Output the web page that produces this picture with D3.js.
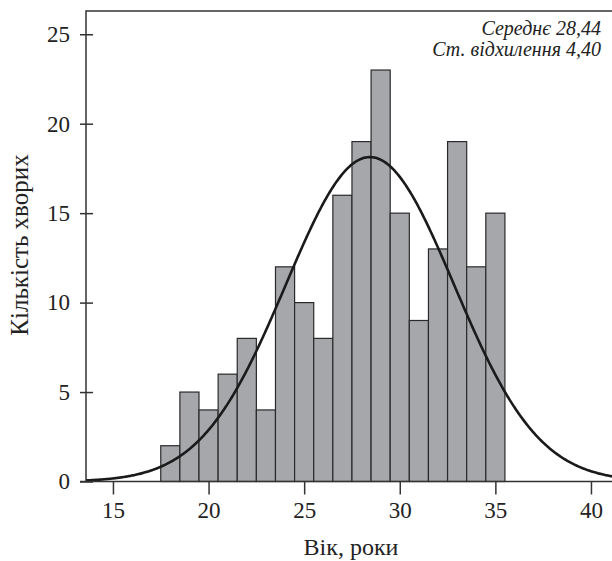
<!DOCTYPE html>
<html>
<head>
<meta charset="utf-8">
<script src="https://cdn.jsdelivr.net/npm/d3@7"></script>
<style>
  body { margin: 0; background: #fff; }
  svg { display: block; font-family: "Liberation Serif", "DejaVu Serif", serif; }
</style>
</head>
<body>
<div id="chart"></div>
<script>
// ages (bin centres) and patient counts
const ages = [18, 19, 20, 21, 22, 23, 24, 25, 26, 27, 28, 29, 30, 31, 32, 33, 34, 35];
const counts = [2, 5, 4, 6, 8, 4, 12, 10, 8, 16, 19, 23, 15, 9, 13, 19, 12, 15];
const xTicks = [15, 20, 25, 30, 35, 40];
const yTicks = [0, 5, 10, 15, 20, 25];
const mean = 28.44;
const sd = 4.40;
const statLines = ['Середнє 28,44', 'Ст. відхилення 4,40'];

const width = 612, height = 561;
const plotLeft = 86, plotRight = 612, plotTop = 11, plotBottom = 481.5;

const svg = d3.select('#chart')
    .append('svg')
    .attr('width', width)
    .attr('height', height);

const x = d3.scaleLinear().domain([13.59, 41.1]).range([plotLeft, plotRight]);
const y = d3.scaleLinear().domain([0, 26.3]).range([plotBottom, plotTop]);

// bars
svg.append('g')
    .selectAll('rect')
    .data(ages)
    .enter()
    .append('rect')
    .attr('x', (d) => x(d - 0.5))
    .attr('y', (d, i) => y(counts[i]))
    .attr('width', x(1) - x(0))
    .attr('height', (d, i) => y(0) - y(counts[i]))
    .style('fill', '#a6a7ab')
    .style('stroke', '#2a2a2a')
    .style('stroke-width', 1.2);

// fitted normal curve, scaled to bin width 1 and total count
const total = d3.sum(counts);
const curveX = d3.range(x.domain()[0], x.domain()[1] + 0.05, 0.05);
const normal = (v) => total / (sd * Math.sqrt(2 * Math.PI)) * Math.exp(-0.5 * ((v - mean) / sd) ** 2);

svg.append('path')
    .datum(curveX)
    .attr('d', d3.line().x((d) => x(d)).y((d) => y(normal(d))))
    .style('fill', 'none')
    .style('stroke', '#1a1a1a')
    .style('stroke-width', 2.6);

// frame: left and top only
svg.append('path')
    .attr('d', `M${plotLeft},${plotBottom}V${plotTop}H${plotRight}`)
    .style('fill', 'none')
    .style('stroke', '#333')
    .style('stroke-width', 1.5);

// x axis
const xAxis = svg.append('g')
    .attr('transform', `translate(0,${plotBottom})`)
    .call(d3.axisBottom(x).tickValues(xTicks).tickSize(13).tickPadding(7));
xAxis.select('.domain').attr('d', `M${plotLeft - 6},0H${plotRight}`);

// y axis, ticks crossing the line
const yAxis = svg.append('g')
    .attr('transform', `translate(${plotLeft},0)`)
    .call(d3.axisLeft(y).tickValues(yTicks).tickSize(0).tickPadding(16));
yAxis.select('.domain').remove();
yAxis.selectAll('.tick line').attr('x1', -6).attr('x2', 7);

svg.selectAll('.tick text')
    .style('font-family', '"Liberation Serif", serif')
    .style('font-size', '23px')
    .style('fill', '#222');
svg.selectAll('.tick line, .domain')
    .style('stroke', '#333')
    .style('stroke-width', 1.5);

// axis titles
svg.append('text')
    .attr('x', 351)
    .attr('y', 555)
    .attr('text-anchor', 'middle')
    .style('font-size', '24px')
    .style('fill', '#222')
    .text('Вік, роки');

svg.append('text')
    .attr('transform', 'translate(28,245) rotate(-90)')
    .attr('text-anchor', 'middle')
    .style('font-size', '25px')
    .style('fill', '#222')
    .text('Кількість хворих');

// statistics note
svg.append('g')
    .selectAll('text')
    .data(statLines)
    .enter()
    .append('text')
    .attr('x', 601)
    .attr('y', (d, i) => 35 + i * 21)
    .attr('text-anchor', 'end')
    .style('font-size', '20px')
    .style('font-style', 'italic')
    .style('fill', '#222')
    .text((d) => d);
</script>
</body>
</html>
